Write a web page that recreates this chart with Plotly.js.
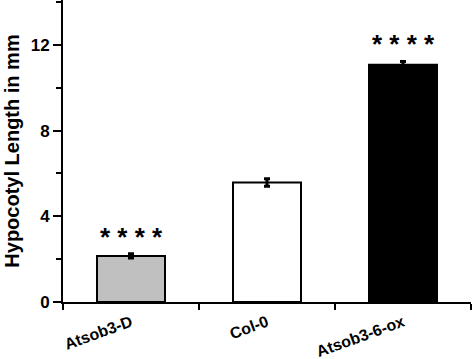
<!DOCTYPE html>
<html><head><meta charset="utf-8">
<script src="https://cdn.plot.ly/plotly-3.0.1.min.js"></script>
<style>html,body{margin:0;padding:0;background:#fff}#chart{width:474px;height:359px}</style>
</head><body><div id="chart"></div>
<script>
const categories = ["Atsob3-D", "Col-0", "Atsob3-6-ox"];
const values = [2.15, 5.58, 11.08];
const errors = [0.1, 0.18, 0.15];
const barColors = ["#c0c0c0", "#ffffff", "#000000"];
const significance = ["* * * *", "", "* * * *"];

const trace = {
  type: "bar",
  x: categories,
  y: values,
  width: 0.5,
  marker: {color: barColors, line: {color: "#000", width: 2}},
  error_y: {type: "data", array: errors, visible: true, color: "#000", thickness: 3, width: 3}
};

const annotations = categories.map((c, i) => ({
  x: c, y: values[i] + errors[i], xref: "x", yref: "y",
  text: significance[i], showarrow: false, yanchor: "bottom", yshift: 0,
  font: {family: "Liberation Sans, Arial", size: 26, color: "#000", weight: "bold"}
})).filter(a => a.text);

const layout = {
  width: 474, height: 359,
  margin: {l: 63, r: 3, t: 0, b: 57},
  paper_bgcolor: "#fff", plot_bgcolor: "#fff",
  showlegend: false,
  font: {family: "Liberation Sans, Arial", color: "#000"},
  xaxis: {
    type: "category", range: [-0.5, 2.5], tickson: "boundaries",
    ticks: "outside", ticklen: 6, tickwidth: 2, tickcolor: "#000",
    showline: true, linewidth: 2, linecolor: "#000", showgrid: false,
    tickangle: -20, ticklabelstandoff: 3,
    tickfont: {size: 16, weight: "bold", color: "#000"}
  },
  yaxis: {
    range: [0, 14.1], dtick: 4, tick0: 0,
    ticks: "outside", ticklen: 8, tickwidth: 2, tickcolor: "#000",
    minor: {dtick: 2, ticks: "outside", ticklen: 5, tickwidth: 2, tickcolor: "#000", showgrid: false},
    showline: true, linewidth: 2, linecolor: "#000", showgrid: false, zeroline: false,
    tickfont: {size: 17, weight: "bold", color: "#000"},
    title: {text: "Hypocotyl Length in mm", font: {size: 20, weight: "bold", color: "#000"}, standoff: 6}
  },
  annotations: annotations
};

Plotly.newPlot("chart", [trace], layout, {displayModeBar: false, staticPlot: true});
</script></body></html>
